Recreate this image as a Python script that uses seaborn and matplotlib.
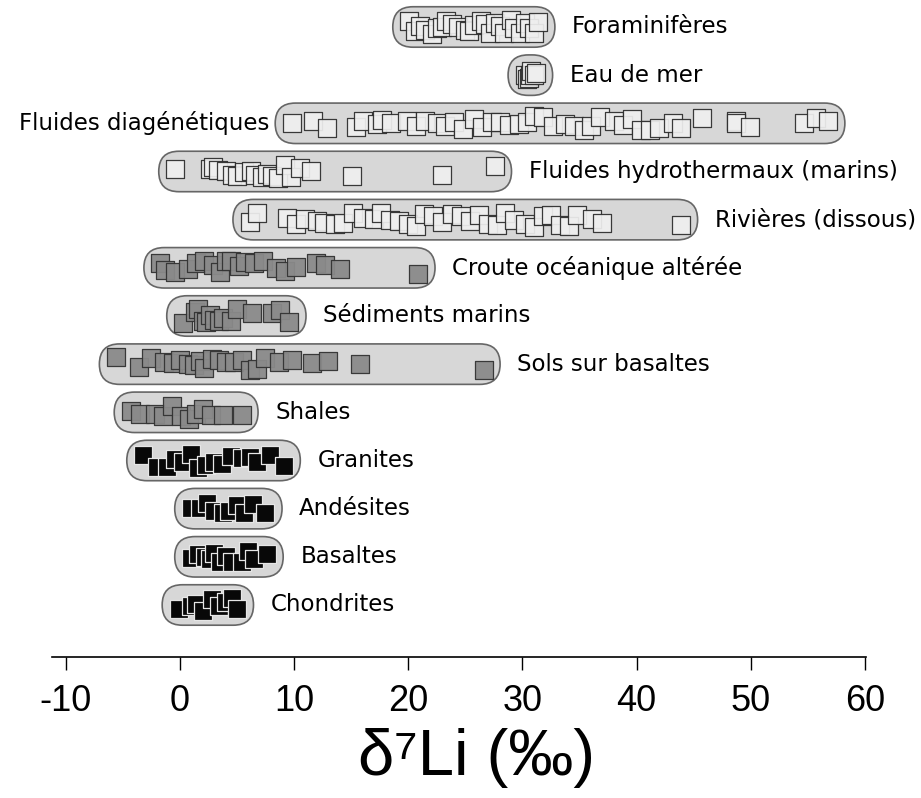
import numpy as np
import pandas as pd
import matplotlib
matplotlib.use("Agg")
import matplotlib.pyplot as plt
import seaborn as sns
from matplotlib.patches import FancyBboxPatch

# delta7Li values (per reservoir)
categories = ["Foraminifères", "Eau de mer", "Fluides diagénétiques",
              "Fluides hydrothermaux (marins)", "Rivières (dissous)",
              "Croute océanique altérée", "Sédiments marins",
              "Sols sur basaltes", "Shales", "Granites", "Andésites",
              "Basaltes", "Chondrites"]

foraminiferes = [20.1, 20.6, 21.0, 21.5, 22.1, 22.5, 23.0, 23.3, 23.8, 24.4, 25.0,
                 25.3, 25.8, 26.4, 26.7, 27.2, 27.6, 28.0, 28.4, 29.0, 29.3, 29.8,
                 30.2, 30.6, 31.0, 31.4]
eau_de_mer = [30.2, 30.4, 30.6, 30.7, 30.8, 31.0, 31.2]
fluides_diag = [9.8, 11.7, 12.9, 15.4, 16.0, 17.3, 17.7, 18.5, 19.9, 20.7, 21.5,
                22.5, 23.2, 24.0, 24.8, 25.8, 26.5, 27.3, 28.0, 28.8, 29.7, 30.4,
                31.0, 31.8, 32.7, 33.7, 34.5, 35.4, 36.0, 36.8, 38.0, 38.8, 39.6,
                40.4, 41.2, 42.0, 43.2, 43.9, 45.7, 48.7, 48.7, 49.9, 54.7, 55.7,
                56.8]
fluides_hydro = [-0.4, 2.6, 2.9, 3.3, 4.0, 4.6, 5.0, 5.6, 6.2, 6.6, 7.2, 7.6, 8.1,
                 8.6, 9.2, 9.7, 10.5, 11.5, 15.1, 23.0, 27.6]
rivieres = [6.1, 6.8, 9.4, 10.2, 11.0, 12.0, 12.6, 13.6, 14.3, 15.2, 16.0, 17.0,
            17.6, 18.4, 19.2, 20.0, 20.7, 21.4, 22.2, 23.0, 23.8, 24.6, 25.4, 26.2,
            27.0, 27.8, 28.5, 29.3, 30.2, 31.0, 31.8, 32.5, 33.3, 34.1, 34.8, 36.1,
            37.0, 43.9]
croute = [-1.7, -1.3, -0.4, 0.7, 1.4, 2.1, 2.9, 3.5, 4.0, 4.5, 5.2, 5.7, 6.5, 7.3,
          8.4, 9.2, 10.2, 11.9, 12.7, 14.0, 20.9]
sediments = [0.3, 1.3, 1.6, 2.0, 2.3, 2.6, 3.0, 3.4, 3.8, 4.5, 5.0, 6.3, 8.1, 8.8, 9.6]
sols = [-5.6, -3.6, -2.5, -1.4, -0.6, 0.0, 0.7, 1.2, 1.8, 2.1, 2.8, 3.4, 4.0, 4.7,
        5.4, 6.1, 6.8, 7.5, 8.7, 9.8, 11.6, 13.0, 15.8, 26.6]
shales = [-4.3, -3.5, -2.2, -1.5, -0.7, 0.1, 0.8, 1.4, 2.0, 2.7, 3.8, 5.4]
granites = [-3.2, -2.0, -1.1, -0.4, 0.3, 1.0, 1.6, 2.3, 3.0, 3.7, 4.5, 5.4, 6.1,
            6.8, 7.9, 9.1]
andesites = [1.0, 1.8, 2.4, 3.0, 3.8, 4.3, 5.0, 5.6, 6.4, 7.5]
basaltes = [1.0, 1.6, 2.2, 2.6, 3.0, 3.5, 4.0, 4.6, 5.4, 6.0, 6.5, 7.6]
chondrites = [-0.1, 1.0, 1.4, 2.0, 2.8, 3.4, 4.0, 4.6, 5.0]

values = [foraminiferes, eau_de_mer, fluides_diag, fluides_hydro, rivieres, croute,
          sediments, sols, shales, granites, andesites, basaltes, chondrites]
kinds = ["fluide"] * 5 + ["alteration"] * 4 + ["roche"] * 4
ticks = [-10, 0, 10, 20, 30, 40, 50, 60]

sns.set_style("white")
plt.rcParams["font.family"] = ["DejaVu Sans"]
plt.rcParams["text.color"] = "black"
plt.rcParams["xtick.color"] = "black"
plt.rcParams["axes.labelcolor"] = "black"
plt.rcParams["axes.unicode_minus"] = False

rows = []
for cat, vals, kind in zip(categories, values, kinds):
    for v in vals:
        rows.append({"groupe": cat, "d7Li": v, "type": kind})
df = pd.DataFrame(rows)

fig = plt.figure(figsize=(9.21, 7.98), dpi=100)
ax = fig.add_axes([52 / 921, 141 / 798, 814 / 921, 657 / 798])

styles = {"fluide": ("#efefef", "#2a2a2a", 0.92),
          "alteration": ("#8a8a8a", "#333333", 0.95),
          "roche": ("#080808", "#e6e6e6", 1.0)}

np.random.seed(7)
for kind, (face, edge, alpha) in styles.items():
    sub = df[df["type"] == kind]
    sns.stripplot(data=sub, x="d7Li", y="groupe", order=categories, orient="h",
                  jitter=0.15, marker="s", size=13.5, color=face, edgecolor=edge,
                  linewidth=0.9, alpha=alpha, ax=ax, zorder=3)

xlim = (-11.2, 60.1)
ylim = (13.08, -0.56)
ax.set_xlim(*xlim)
ax.set_ylim(*ylim)

# rounded range boxes
aspect = (abs(ylim[0] - ylim[1]) / 657) / ((xlim[1] - xlim[0]) / 814)
half_h = 0.42
pad = 1.45
for i, (cat, vals) in enumerate(zip(categories, values)):
    lo, hi = min(vals) - pad, max(vals) + pad
    box = FancyBboxPatch((lo, i - half_h), hi - lo, 2 * half_h,
                         boxstyle=f"round,pad=0,rounding_size={half_h / aspect}",
                         mutation_aspect=aspect, facecolor="#d7d7d7",
                         edgecolor="#666666", linewidth=1.2, zorder=1)
    ax.add_patch(box)
    if cat == "Fluides diagénétiques":
        ax.text(lo - 0.55, i, cat, ha="right", va="center", fontsize=16.5)
    else:
        ax.text(hi + 1.5, i, cat, ha="left", va="center", fontsize=16.5)

for s in ["top", "left", "right"]:
    ax.spines[s].set_visible(False)
ax.spines["bottom"].set_linewidth(1.2)
ax.spines["bottom"].set_color("black")
ax.set_yticks([])
ax.set_ylabel("")
ax.set_xticks(ticks)
ax.set_xticklabels([str(t) for t in ticks], fontfamily=["Liberation Sans"])
ax.tick_params(axis="x", direction="out", length=9.5, width=1.0, pad=10,
               labelsize=26, bottom=True)
ax.set_xlabel("δ⁷Li (‰)", fontsize=47,
              fontfamily=["Liberation Sans", "DejaVu Sans"])
ax.xaxis.set_label_coords(0.522, -0.108)

fig.savefig("out.png", dpi=100)
